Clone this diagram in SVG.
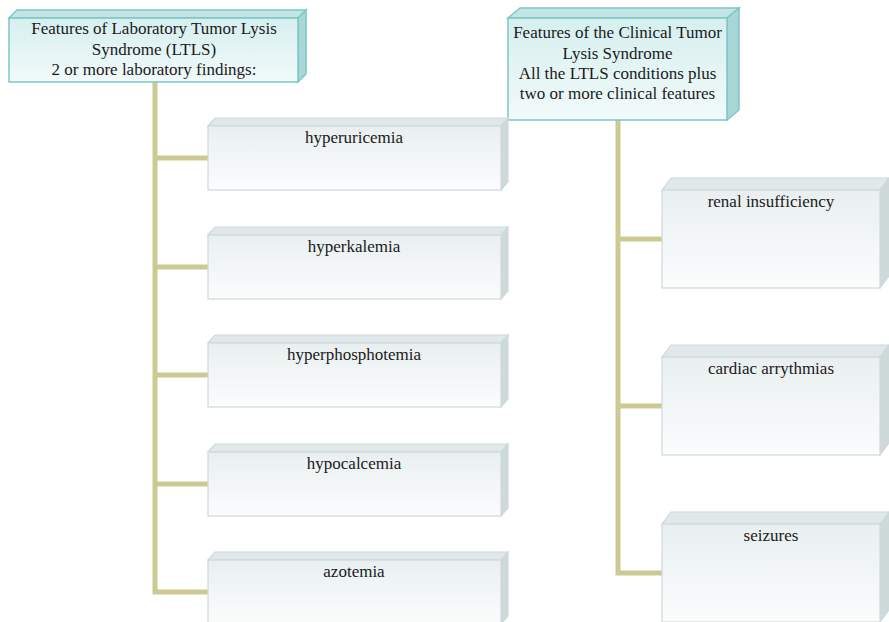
<svg xmlns="http://www.w3.org/2000/svg" width="889" height="622" viewBox="0 0 889 622">
<defs>
<linearGradient id="gHead" x1="0" y1="0" x2="0" y2="1">
<stop offset="0" stop-color="#d6efef"/>
<stop offset="1" stop-color="#f2fafa"/>
</linearGradient>
<linearGradient id="gBox" x1="0" y1="0" x2="0" y2="1">
<stop offset="0" stop-color="#e9eff0"/>
<stop offset="1" stop-color="#fbfdfd"/>
</linearGradient>
<style>
.hf{fill:url(#gHead);stroke:#7ec6c6;stroke-width:1.5}
.ht{fill:#c2e4e4;stroke:#7ec6c6;stroke-width:1.5}
.hs{fill:#a9d7d7;stroke:#7ec6c6;stroke-width:1.5}
.bf{fill:url(#gBox);stroke:#cdd9da;stroke-width:1.2}
.bt{fill:#e0e8e9;stroke:#cdd9da;stroke-width:1.2}
.bs{fill:#cfd9da;stroke:#cdd9da;stroke-width:1.2}
text{font-family:"Liberation Serif","Times New Roman",serif;font-size:17px;fill:#1a1a1a;text-anchor:middle}
.c{fill:none;stroke:#cdc994;stroke-width:5}
</style>
</defs>
<g id="connectors">
<path class="c" d="M155,82 V592 H208"/>
<path class="c" d="M155,158 H208"/>
<path class="c" d="M155,267 H208"/>
<path class="c" d="M155,375 H208"/>
<path class="c" d="M155,484 H208"/>
<path class="c" d="M618,120 V573 H662"/>
<path class="c" d="M618,239 H662"/>
<path class="c" d="M618,406 H662"/>
</g>
<g id="ltls">
<polygon class="ht" points="9,18 17,10 306,10 298,18"/>
<polygon class="hs" points="298,18 306,10 306,74 298,82"/>
<rect class="hf" x="9" y="18" width="289" height="64"/>
<text x="154" y="34">Features of Laboratory Tumor Lysis</text>
<text x="154" y="55">Syndrome (LTLS)</text>
<text x="154" y="75">2 or more laboratory findings:</text>
</g>
<g id="clinical">
<polygon class="ht" points="508,18 520,8 739,8 727,18"/>
<polygon class="hs" points="727,18 739,8 739,110 727,120"/>
<rect class="hf" x="508" y="18" width="219" height="102"/>
<text x="617.5" y="38">Features of the Clinical Tumor</text>
<text x="617.5" y="59">Lysis Syndrome</text>
<text x="617.5" y="79">All the LTLS conditions plus</text>
<text x="617.5" y="99">two or more clinical features</text>
</g>
<g id="hyperuricemia">
<polygon class="bt" points="208,126 215,118 508,118 501,126"/>
<polygon class="bs" points="501,126 508,118 508,182 501,190"/>
<rect class="bf" x="208" y="126" width="293" height="64"/>
<text x="354" y="143">hyperuricemia</text>
</g>
<g id="hyperkalemia">
<polygon class="bt" points="208,235 215,227 508,227 501,235"/>
<polygon class="bs" points="501,235 508,227 508,291 501,299"/>
<rect class="bf" x="208" y="235" width="293" height="64"/>
<text x="354" y="252">hyperkalemia</text>
</g>
<g id="hyperphosphotemia">
<polygon class="bt" points="208,343 215,335 508,335 501,343"/>
<polygon class="bs" points="501,343 508,335 508,399 501,407"/>
<rect class="bf" x="208" y="343" width="293" height="64"/>
<text x="354" y="360">hyperphosphotemia</text>
</g>
<g id="hypocalcemia">
<polygon class="bt" points="208,452 215,444 508,444 501,452"/>
<polygon class="bs" points="501,452 508,444 508,508 501,516"/>
<rect class="bf" x="208" y="452" width="293" height="64"/>
<text x="354" y="469">hypocalcemia</text>
</g>
<g id="azotemia">
<polygon class="bt" points="208,560 215,552 508,552 501,560"/>
<polygon class="bs" points="501,560 508,552 508,616 501,624"/>
<rect class="bf" x="208" y="560" width="293" height="64"/>
<text x="354" y="577">azotemia</text>
</g>
<g id="renal">
<polygon class="bt" points="662,190 671,178 889,178 880,190"/>
<polygon class="bs" points="880,190 889,178 889,276 880,288"/>
<rect class="bf" x="662" y="190" width="218" height="98"/>
<text x="771" y="207">renal insufficiency</text>
</g>
<g id="cardiac">
<polygon class="bt" points="662,357 671,345 889,345 880,357"/>
<polygon class="bs" points="880,357 889,345 889,443 880,455"/>
<rect class="bf" x="662" y="357" width="218" height="98"/>
<text x="771" y="374">cardiac arrythmias</text>
</g>
<g id="seizures">
<polygon class="bt" points="662,524 671,512 889,512 880,524"/>
<polygon class="bs" points="880,524 889,512 889,610 880,622"/>
<rect class="bf" x="662" y="524" width="218" height="98"/>
<text x="771" y="541">seizures</text>
</g>
</svg>
